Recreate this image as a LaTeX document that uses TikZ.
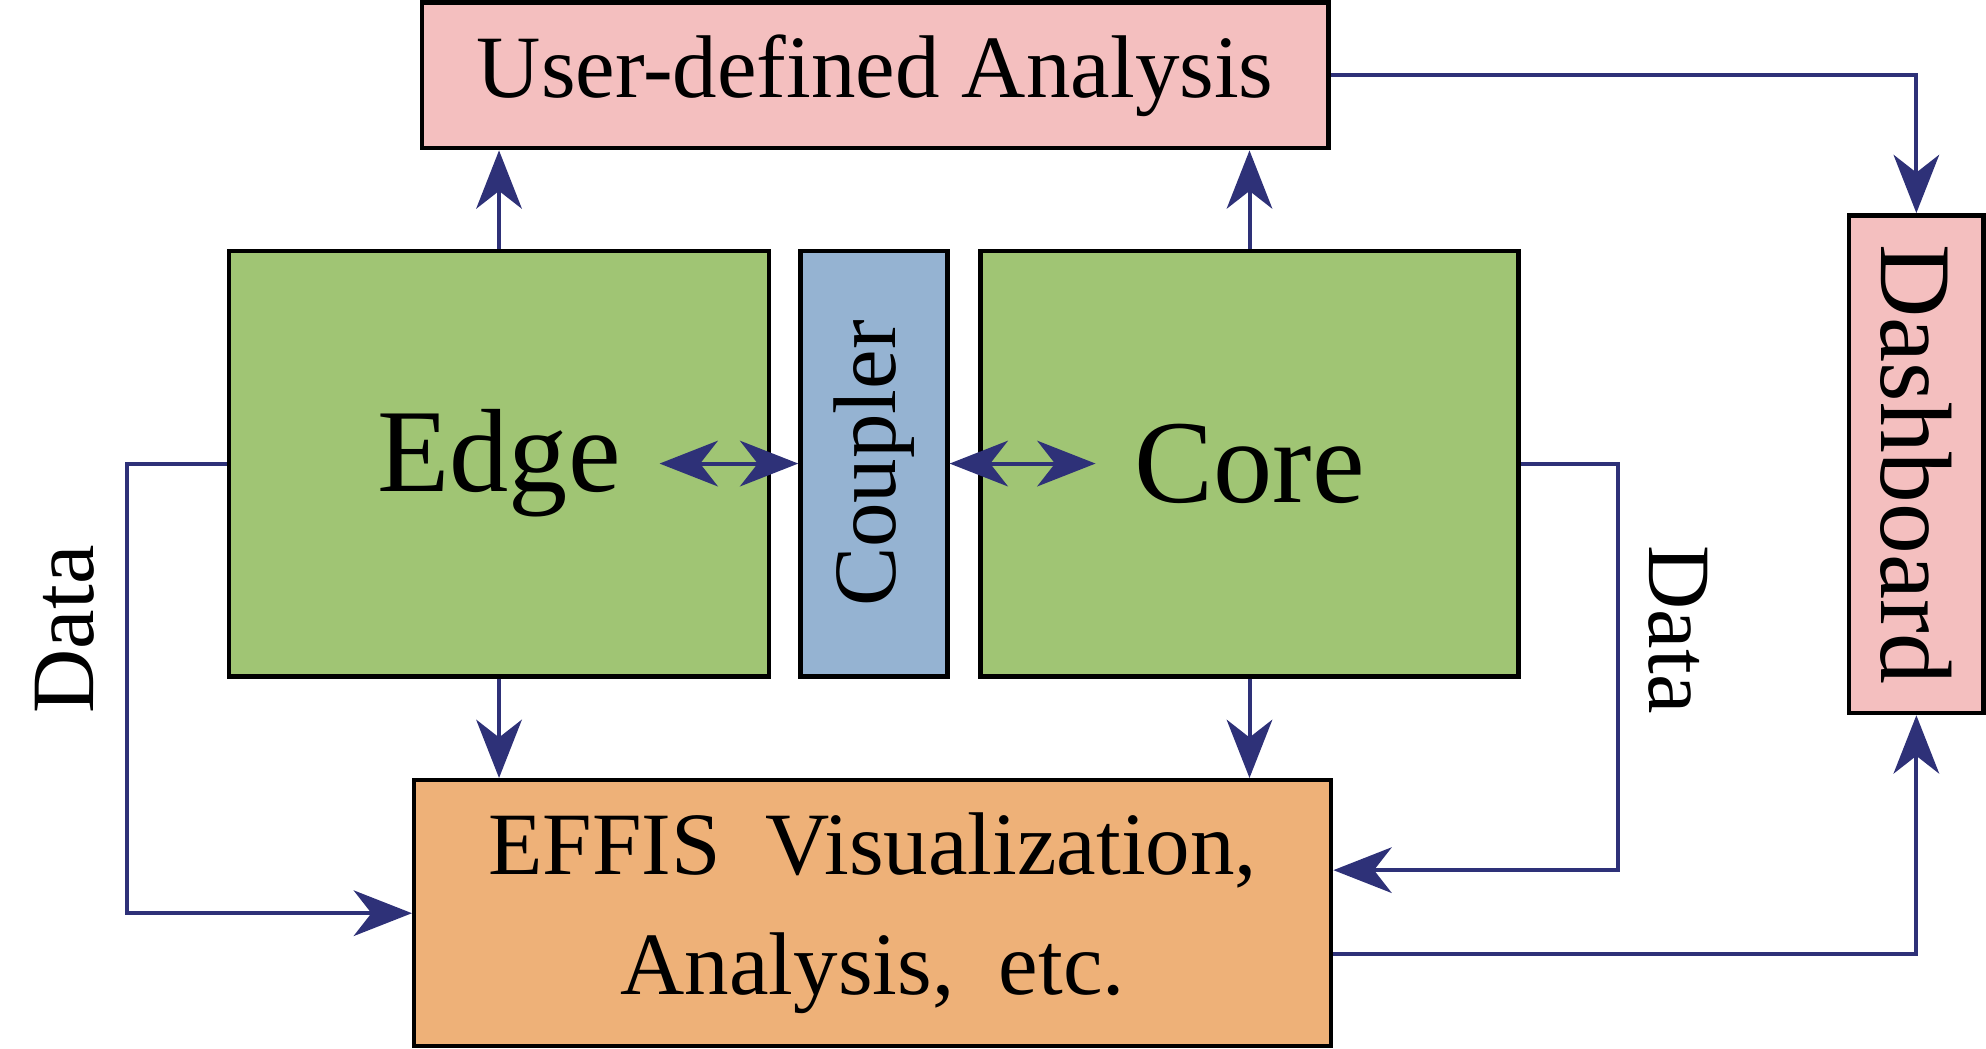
\documentclass[tikz,border=0pt]{standalone}
\usepackage{fontspec}
\setmainfont{Liberation Serif}
\usetikzlibrary{arrows.meta, calc}
\definecolor{boxgreen}{RGB}{160,197,116}
\definecolor{boxblue}{RGB}{149,179,210}
\definecolor{boxpink}{RGB}{244,191,191}
\definecolor{boxorange}{RGB}{238,177,120}
\definecolor{linkblue}{RGB}{46,49,120}

\begin{document}
\begin{tikzpicture}[
    >={Stealth[length=4.6mm, width=3.6mm, inset=1.4mm]},
    box/.style={draw, line width=1pt, inner sep=0pt},
    flow/.style={draw=linkblue, line width=0.9pt},
    bigtext/.style={font=\fontsize{26.6}{32}\selectfont, inner sep=0.3cm},
    midtext/.style={font=\fontsize{20}{27}\selectfont}]
    \useasboundingbox (0,0) rectangle (15.68,8.28);

    % Boxes
    \node[box, fill=boxpink, minimum width=7.16cm, minimum height=1.15cm, midtext] (analysis) at (6.91,7.685) {User-defined Analysis};
    \node[box, fill=boxgreen, minimum width=4.26cm, minimum height=3.36cm] (edge) at (3.94,4.62) {};
    \node[box, fill=boxblue, minimum width=1.16cm, minimum height=3.36cm] (coupler) at (6.90,4.62) {};
    \node[box, fill=boxgreen, minimum width=4.25cm, minimum height=3.36cm] (core) at (9.865,4.62) {};
    \node[box, fill=boxpink, minimum width=1.06cm, minimum height=3.93cm] (dashboard) at (15.13,4.615) {};
    \node[box, fill=boxorange, minimum width=7.24cm, minimum height=2.10cm, midtext, align=center] (effis) at (6.89,1.07) {EFFIS\ \ Visualization,\\Analysis,\ \ etc.};

    % Labels
    \node[bigtext] (edgetext) at (edge) {Edge};
    \node[bigtext] (coretext) at (core) {Core};
    \node[midtext, rotate=90] (couplertext) at (coupler) {Coupler};
    \node[font=\fontsize{22.8}{27}\selectfont, rotate=-90] (dashtext) at (dashboard) {Dashboard};
    \node[midtext, rotate=90] (dataleft) at (0.51,3.31) {Data};
    \node[midtext, rotate=-90] (dataright) at (13.25,3.31) {Data};

    \coordinate (effisin) at ($(effis.east)+(0,0.34)$);
    \coordinate (effisout) at ($(effis.east)+(0,-0.32)$);

    % Arrows
    \draw[flow, <->] (edgetext) -- (coupler);
    \draw[flow, <->] (coupler) -- (coretext);
    \draw[flow, ->] (edge.north) -- (edge.north |- analysis.south);
    \draw[flow, ->] (core.north) -- (core.north |- analysis.south);
    \draw[flow, ->] (edge.south) -- (edge.south |- effis.north);
    \draw[flow, ->] (core.south) -- (core.south |- effis.north);
    \draw[flow, ->] (analysis.east) -| (dashboard.north);
    \draw[flow, ->] (edge.west) -- ++(-0.79,0) |- (effis.west);
    \draw[flow, ->] (core.east) -- ++(0.77,0) |- (effisin);
    \draw[flow, ->] (effisout) -| (dashboard.south);
\end{tikzpicture}
\end{document}
